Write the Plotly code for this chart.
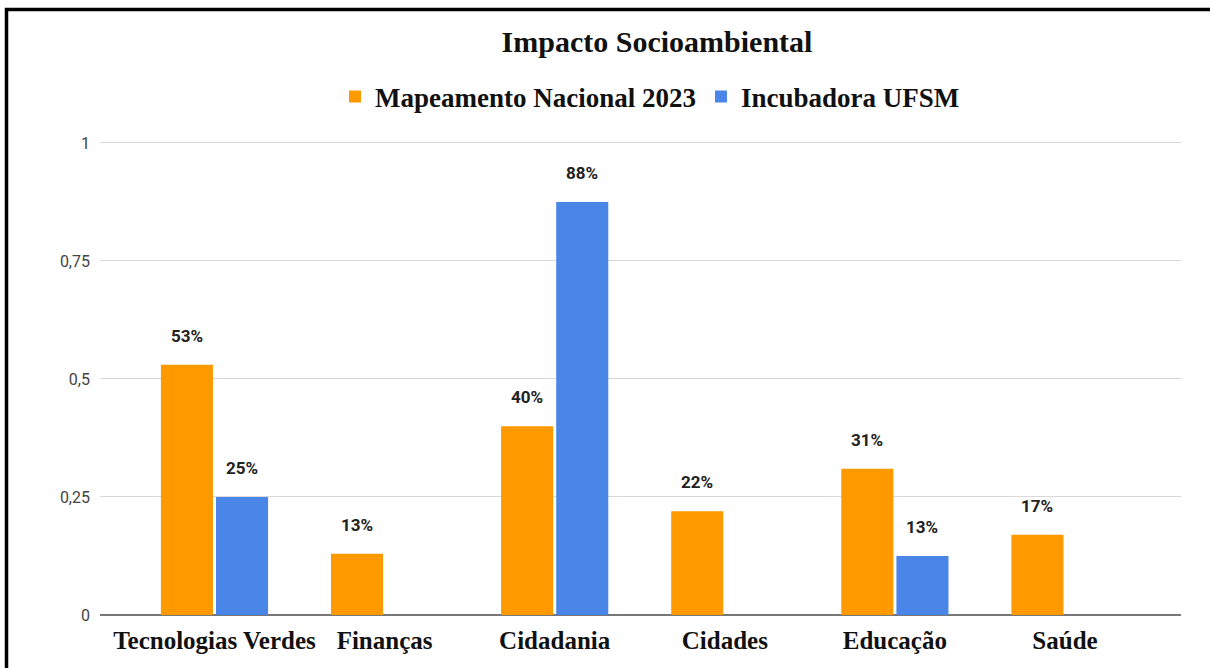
import plotly.graph_objects as go

categories = ["Tecnologias Verdes", "Finanças", "Cidadania", "Cidades", "Educação", "Saúde"]
mapeamento = [0.53, 0.13, 0.40, 0.22, 0.31, 0.17]
incubadora = [0.25, None, 0.875, None, 0.125, None]
mapeamento_labels = ["53%", "13%", "40%", "22%", "31%", "17%"]
incubadora_labels = ["25%", None, "88%", None, "13%", None]
y_ticks = [0, 0.25, 0.5, 0.75, 1]
y_ticktext = ["0", "0,25", "0,5", "0,75", "1"]

ORANGE = "#FF9900"
BLUE = "#4A86E8"
SERIF = "Liberation Serif"
SANS = "Roboto, Arial, sans-serif"

fig = go.Figure()
fig.add_trace(go.Bar(name="Mapeamento Nacional 2023", x=categories, y=mapeamento,
                     marker=dict(color=ORANGE, line=dict(width=0))))
fig.add_trace(go.Bar(name="Incubadora UFSM", x=categories, y=incubadora,
                     marker=dict(color=BLUE, line=dict(width=0))))

label_font = dict(family=SANS, size=17, color="#222222", weight="bold")
annotations = []
for i, (v, t) in enumerate(zip(mapeamento, mapeamento_labels)):
    annotations.append(dict(x=i - 0.162, y=v, xref="x", yref="y", text=t, showarrow=False,
                            yanchor="middle", yshift=29, font=label_font))
for i, (v, t) in enumerate(zip(incubadora, incubadora_labels)):
    if v is None:
        continue
    annotations.append(dict(x=i + 0.162, y=v, xref="x", yref="y", text=t, showarrow=False,
                            yanchor="middle", yshift=29, font=label_font))

W, H = 1210, 668
L, R, T, B = 100, 29, 140, 53
pw = W - L - R
ph = H - T - B
YMAX = 1.003

def px_x(p):
    return (p - L) / pw

def px_y(p):
    return (H - B - p) / ph

fig.update_layout(
    width=W, height=H,
    margin=dict(l=L, r=R, t=T, b=B),
    paper_bgcolor="white", plot_bgcolor="white",
    barmode="group", bargap=0.352, bargroupgap=0.055,
    title=dict(text="<b>Impacto Socioambiental</b>", x=657 / W, xref="container", xanchor="center",
               y=1 - 41 / H, yref="container", yanchor="middle",
               font=dict(family=SERIF, size=30, color="#111111")),
    legend=dict(orientation="h", x=650 / W, xref="container", xanchor="center",
                y=1 - 97 / H, yref="container", yanchor="middle",
                font=dict(family=SERIF, size=27, color="#111111", weight="bold"),
                itemwidth=30, tracegroupgap=0),
    xaxis=dict(range=[-0.673, 5.682], showgrid=False, showline=False, ticks="",
               tickfont=dict(family=SERIF, size=25, color="#111111", weight="bold"),
               ticklabelstandoff=8, zeroline=False),
    yaxis=dict(range=[0, YMAX], tickvals=y_ticks, ticktext=y_ticktext,
               showgrid=True, gridcolor="#D9D9D9", gridwidth=1,
               zeroline=True, zerolinecolor="#777777", zerolinewidth=2,
               showline=False, ticks="", ticklen=0, ticklabelstandoff=9,
               tickfont=dict(family=SANS, size=16, color="#444444")),
    annotations=annotations,
    shapes=[dict(type="rect", xref="paper", yref="paper",
                 x0=px_x(6.5), x1=px_x(1225), y0=px_y(690), y1=px_y(7.5),
                 line=dict(color="black", width=3.5), fillcolor="rgba(0,0,0,0)", layer="above")],
    showlegend=True,
)

fig.write_html("out.html", config={"displayModeBar": False},
               post_script="document.body.style.margin='0px';document.body.style.padding='0px';")
